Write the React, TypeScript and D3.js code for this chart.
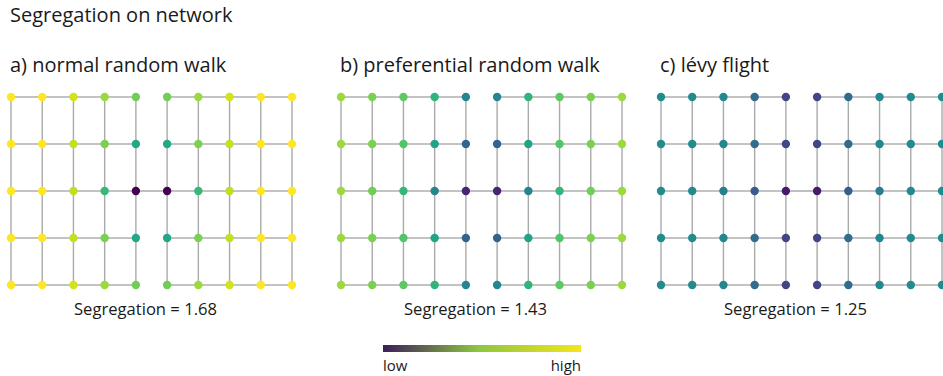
import * as d3 from "d3";

const panelTitles = ["a) normal random walk", "b) preferential random walk", "c) lévy flight"];
const segregationLabels = ["Segregation = 1.68", "Segregation = 1.43", "Segregation = 1.25"];

// node values (0 = low, 1 = high), 5 rows x 10 columns (two 5x5 grids)
const normalWalk = [
  [1.0, 1.0, 0.93, 0.85, 0.78, 0.78, 0.85, 0.93, 1.0, 1.0],
  [1.0, 1.0, 0.91, 0.8, 0.6, 0.6, 0.8, 0.91, 1.0, 1.0],
  [1.0, 1.0, 0.9, 0.67, 0.0, 0.0, 0.67, 0.9, 1.0, 1.0],
  [1.0, 1.0, 0.91, 0.8, 0.6, 0.6, 0.8, 0.91, 1.0, 1.0],
  [1.0, 1.0, 0.93, 0.85, 0.78, 0.78, 0.85, 0.93, 1.0, 1.0],
];
const preferentialWalk = [
  [0.85, 0.8, 0.75, 0.65, 0.46, 0.46, 0.65, 0.75, 0.8, 0.85],
  [0.85, 0.8, 0.73, 0.58, 0.32, 0.32, 0.58, 0.73, 0.8, 0.85],
  [0.85, 0.78, 0.66, 0.45, 0.1, 0.1, 0.45, 0.66, 0.78, 0.85],
  [0.85, 0.8, 0.73, 0.58, 0.32, 0.32, 0.58, 0.73, 0.8, 0.85],
  [0.85, 0.8, 0.75, 0.65, 0.46, 0.46, 0.65, 0.75, 0.8, 0.85],
];
const levyFlight = [
  [0.48, 0.48, 0.46, 0.35, 0.21, 0.21, 0.35, 0.46, 0.48, 0.48],
  [0.48, 0.48, 0.46, 0.35, 0.21, 0.21, 0.35, 0.46, 0.48, 0.48],
  [0.48, 0.47, 0.42, 0.29, 0.07, 0.07, 0.29, 0.42, 0.47, 0.48],
  [0.48, 0.48, 0.46, 0.35, 0.21, 0.21, 0.35, 0.46, 0.48, 0.48],
  [0.48, 0.48, 0.46, 0.35, 0.21, 0.21, 0.35, 0.46, 0.48, 0.48],
];
const panels = [normalWalk, preferentialWalk, levyFlight];
const panelOffsets = [0, 330, 650];

const legendStops = ["#3d1c5b", "#8dc63f", "#f3e61b"];
const legendLabels = ["low", "high"];

const FONT = "'Open Sans', 'Noto Sans', sans-serif";

const x = d3.scaleLinear().domain([0, 9]).range([11, 292]);
const y = d3.scaleLinear().domain([0, 4]).range([97, 285]);
const color = d3.scaleSequential(d3.interpolateViridis).domain([0, 1]);
const legendX = d3.scaleLinear().domain([0, 1]).range([383, 581]);

type Edge = { x1: number; y1: number; x2: number; y2: number };

function buildEdges(rows: number[][]): Edge[] {
  const edges: Edge[] = [];
  const nr = rows.length;
  const nc = rows[0].length;
  const half = nc / 2;
  for (let r = 0; r < nr; r++) {
    for (let c = 0; c < nc; c++) {
      // horizontal: inside each grid, plus the single bridge in the middle row
      if (c + 1 < nc) {
        const sameGrid = Math.floor(c / half) === Math.floor((c + 1) / half);
        const bridge = c === half - 1 && r === Math.floor(nr / 2);
        if (sameGrid || bridge) edges.push({ x1: x(c), y1: y(r), x2: x(c + 1), y2: y(r) });
      }
      if (r + 1 < nr) edges.push({ x1: x(c), y1: y(r), x2: x(c), y2: y(r + 1) });
    }
  }
  return edges;
}

const Panel = ({ rows, offset, title, label }: { rows: number[][]; offset: number; title: string; label: string }) => {
  const edges = buildEdges(rows);
  const cx = (x(0) + x(9)) / 2 - 6;
  return (
    <g transform={`translate(${offset},0)`}>
      <text x={10} y={72} fontSize={20} fontFamily={FONT} fill="#1a1a1a">
        {title}
      </text>
      <g>
        {edges.map((e, i) => (
          <line key={i} x1={e.x1} y1={e.y1} x2={e.x2} y2={e.y2} stroke="#aaaaaa" strokeWidth={1.4} />
        ))}
      </g>
      <g>
        {rows.map((row, r) =>
          row.map((v, c) => <circle key={`${r}-${c}`} cx={x(c)} cy={y(r)} r={4.2} fill={color(v)} />)
        )}
      </g>
      <text x={cx} y={315} fontSize={16.6} fontFamily={FONT} textAnchor="middle" fill="#1a1a1a">
        {label}
      </text>
    </g>
  );
};

export default function App() {
  return (
    <svg
      width={943}
      height={376}
      style={{ position: "absolute", left: 0, top: 0, background: "#fff" }}
    >
      <defs>
        <linearGradient id="legendGrad" x1="0" x2="1" y1="0" y2="0">
          <stop offset="0" stopColor={legendStops[0]} />
          <stop offset="0.48" stopColor={legendStops[1]} />
          <stop offset="1" stopColor={legendStops[2]} />
        </linearGradient>
      </defs>
      <text x={10} y={22} fontSize={20} fontFamily={FONT} fill="#1a1a1a">
        Segregation on network
      </text>
      {panels.map((rows, i) => (
        <Panel key={i} rows={rows} offset={panelOffsets[i]} title={panelTitles[i]} label={segregationLabels[i]} />
      ))}
      <rect x={legendX(0)} y={345} width={legendX(1) - legendX(0)} height={7} fill="url(#legendGrad)" />
      <text x={legendX(0)} y={371} fontSize={15} fontFamily={FONT} fill="#1a1a1a">
        {legendLabels[0]}
      </text>
      <text x={legendX(1)} y={371} fontSize={15} fontFamily={FONT} textAnchor="end" fill="#1a1a1a">
        {legendLabels[1]}
      </text>
    </svg>
  );
}
